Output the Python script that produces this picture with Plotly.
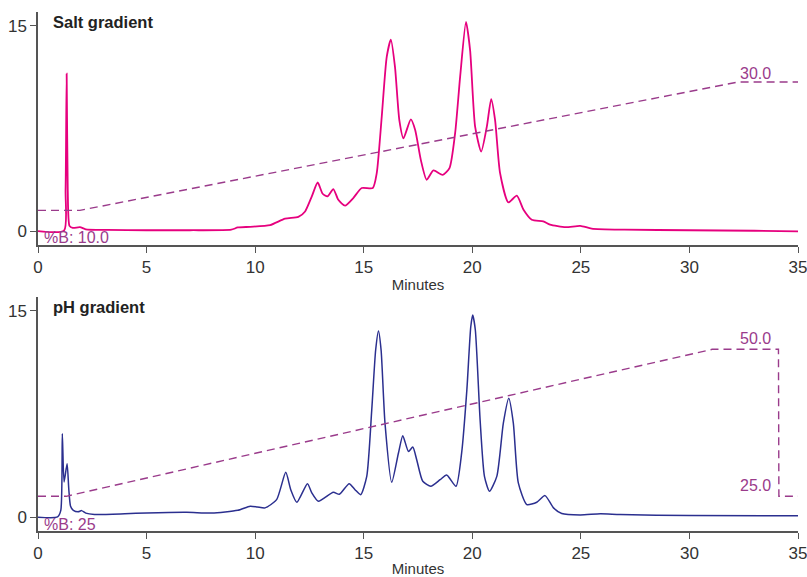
import plotly.graph_objects as go

# ---- data ----
salt_t = [0, 1.2, 1.27, 1.32, 1.37, 1.45, 1.6, 1.93, 2.2, 3.16, 5, 7, 8.9, 9.2, 9.77, 10.69, 11.38, 11.99,
          12.30, 12.61, 12.88, 13.11, 13.33, 13.60, 13.83, 14.14, 14.52, 14.91, 15.42, 15.60, 15.83, 16.06,
          16.25, 16.44, 16.64, 16.83, 17.17, 17.37, 17.63, 17.90, 18.21, 18.64, 18.95, 19.21, 19.44, 19.71,
          19.90, 20.13, 20.41, 20.67, 20.87, 21.05, 21.28, 21.66, 22.05, 22.36, 22.74, 23.27, 23.58, 24.3,
          24.97, 25.5, 27, 30, 33, 35]
salt_v = [0.02, 0.05, 3.0, 11.5, 3.0, 0.4, 0.25, 0.3, 0.15, 0.1, 0.08, 0.08, 0.12, 0.28, 0.33, 0.45, 0.92, 1.05,
          1.45, 2.55, 3.56, 2.74, 2.55, 3.08, 2.3, 1.87, 2.43, 3.16, 3.16, 4.24, 8.36, 12.73,
          13.99, 12.0, 8.12, 6.79, 8.17, 7.4, 5.21, 3.76, 4.44, 4.12, 4.61, 7.16, 11.27, 15.27,
          13.2, 7.64, 5.82, 7.64, 9.65, 8.12, 4.24, 2.11, 2.6, 1.58, 0.85, 0.73, 0.49, 0.3,
          0.4, 0.2, 0.12, 0.08, 0.04, 0.0]

ph_t = [0, 0.9, 1.05, 1.12, 1.2, 1.34, 1.42, 1.5, 1.63, 1.85, 2.01, 2.2, 2.6, 4, 5.0, 6.85, 8, 9.2, 9.77, 10.1,
        10.46, 10.99, 11.41, 11.64, 11.92, 12.41, 12.61, 12.91, 13.60, 13.88, 14.33, 14.60, 14.86, 15.14,
        15.37, 15.55, 15.68, 15.80, 15.98, 16.29, 16.60, 16.80, 17.06, 17.26, 17.44, 17.72, 18.09, 18.52,
        18.82, 19.25, 19.51, 19.75, 19.93, 20.02, 20.14, 20.36, 20.56, 20.79, 21.13, 21.43, 21.68, 21.89,
        22.12, 22.51, 22.97, 23.35, 23.74, 24.12, 24.97, 25.9, 26.8, 30, 35]
ph_v = [0.0, 0.02, 0.5, 6.07, 2.56, 3.89, 2.0, 0.8, 0.5, 0.4, 0.48, 0.3, 0.2, 0.25, 0.31, 0.36, 0.3, 0.5, 0.8, 0.75,
        0.68, 1.28, 3.26, 2.0, 1.09, 2.44, 1.77, 1.16, 1.81, 1.67, 2.44, 2.0, 1.64, 2.97,
        7.8, 12.15, 13.53, 12.15, 6.84, 2.54, 4.67, 5.92, 4.78, 5.1, 4.18, 2.61, 2.25, 2.73,
        3.07, 2.25, 4.67, 9.25, 13.84, 14.69, 13.6, 7.08, 2.97, 1.88, 2.97, 6.84, 8.65, 6.84,
        2.49, 0.92, 1.09, 1.57, 0.68, 0.27, 0.17, 0.25, 0.2, 0.12, 0.1]

salt_grad_t = [0, 1.93, 32.26, 35]
salt_grad_b = [10, 10, 30, 30]
ph_grad_t = [0, 1.3, 31.05, 34.1, 34.12, 35]
ph_grad_b = [25, 25, 50, 50, 25, 25]

x_ticks = [0, 5, 10, 15, 20, 25, 30, 35]
y_ticks = [0, 15]

PINK = "#e6007e"
NAVY = "#2b2f8f"
PURPLE = "#9a3b8b"
AXIS = "#555555"
TXT = "#333333"
FONT = "Liberation Sans, Arial"

fig = go.Figure()
fig.add_trace(go.Scatter(x=salt_t, y=salt_v, mode="lines", xaxis="x", yaxis="y",
                         line=dict(color=PINK, width=1.8, shape="spline", smoothing=0.6), hoverinfo="skip"))
fig.add_trace(go.Scatter(x=salt_grad_t, y=salt_grad_b, mode="lines", xaxis="x", yaxis="y3",
                         line=dict(color=PURPLE, width=1.4, dash="8px,5px"), hoverinfo="skip"))
fig.add_trace(go.Scatter(x=ph_t, y=ph_v, mode="lines", xaxis="x2", yaxis="y2",
                         line=dict(color=NAVY, width=1.5, shape="spline", smoothing=0.6), hoverinfo="skip"))
fig.add_trace(go.Scatter(x=ph_grad_t, y=ph_grad_b, mode="lines", xaxis="x2", yaxis="y4",
                         line=dict(color=PURPLE, width=1.4, dash="8px,5px"), hoverinfo="skip"))

xcommon = dict(range=[0, 35], tickvals=x_ticks, ticks="outside", ticklen=6, tickwidth=1.3,
               tickcolor=AXIS, showline=True, linecolor=AXIS, linewidth=1.5, showgrid=False,
               zeroline=False, tickfont=dict(family=FONT, size=17, color=TXT), automargin=False,
               ticklabeloverflow="allow",
               title=dict(text="Minutes", font=dict(family=FONT, size=15, color=TXT), standoff=3))
ycommon = dict(range=[-1, 16], tickvals=y_ticks, ticks="outside", ticklen=6, tickwidth=1.3,
               tickcolor=AXIS, showline=True, linecolor=AXIS, linewidth=1.5, showgrid=False,
               zeroline=False, tickfont=dict(family=FONT, size=17, color=TXT), automargin=False,
               ticklabeloverflow="allow")

fig.update_layout(
    width=807, height=577,
    margin=dict(l=38, r=9, t=12, b=46),
    paper_bgcolor="white", plot_bgcolor="white",
    showlegend=False,
    xaxis=dict(domain=[0, 1], anchor="y", **xcommon),
    yaxis=dict(domain=[0.551, 1], anchor="x", **ycommon),
    xaxis2=dict(domain=[0, 1], anchor="y2", **xcommon),
    yaxis2=dict(domain=[0, 0.4509], anchor="x2", **ycommon),
    yaxis3=dict(overlaying="y", range=[4.6, 40.89], visible=False),
    yaxis4=dict(overlaying="y2", range=[19.1, 58.9], visible=False),
)

ann_font = dict(family=FONT, size=16, color=PURPLE)
title_font = dict(family=FONT, size=16.5, color="#222222")
fig.add_annotation(text="<b>Salt gradient</b>", xref="x domain", yref="y domain", x=0.017, y=0.957,
                   xanchor="left", yanchor="middle", showarrow=False, font=title_font)
fig.add_annotation(text="<b>pH gradient</b>", xref="x2 domain", yref="y2 domain", x=0.017, y=0.958,
                   xanchor="left", yanchor="middle", showarrow=False, font=title_font)
fig.add_annotation(text="%B: 10.0", xref="x", yref="y", x=0.18, y=-0.46, xanchor="left", yanchor="middle",
                   showarrow=False, font=ann_font)
fig.add_annotation(text="30.0", xref="x", yref="y", x=33.87, y=11.54, xanchor="right", yanchor="middle",
                   showarrow=False, font=ann_font)
fig.add_annotation(text="%B: 25", xref="x2", yref="y2", x=0.18, y=-0.55, xanchor="left", yanchor="middle",
                   showarrow=False, font=ann_font)
fig.add_annotation(text="50.0", xref="x2", yref="y2", x=33.87, y=12.95, xanchor="right", yanchor="middle",
                   showarrow=False, font=ann_font)
fig.add_annotation(text="25.0", xref="x2", yref="y2", x=33.87, y=2.33, xanchor="right", yanchor="middle",
                   showarrow=False, font=ann_font)

fig.write_html("out.html")
